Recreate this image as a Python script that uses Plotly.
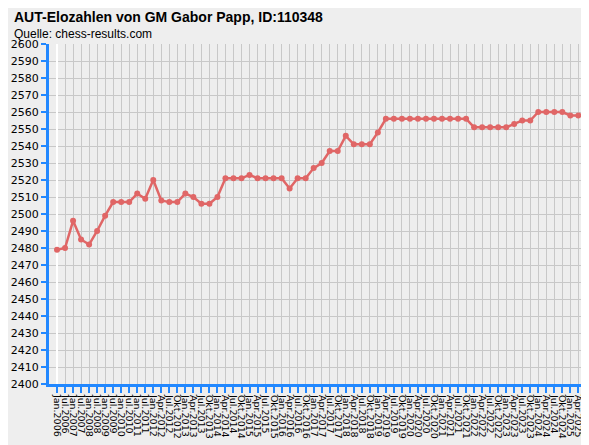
import plotly.graph_objects as go

labels = ["Jan.2006","Jul.2006","Jan.2007","Jul.2007","Jan.2008","Jul.2008","Jan.2009","Jul.2009",
"Jan.2010","Jul.2010","Jan.2011","Jul.2011","Jan.2012","Apr.2012","Jul.2012","Okt.2012"]
for y in range(2013, 2025):
    labels += [f"Jan.{y}", f"Apr.{y}", f"Jul.{y}", f"Okt.{y}"]
labels += ["Jan.2025", "Apr.2025", "Jul.2025"]

elo = [2479,2480,2496,2485,2482,2490,2499,2507,2507,2507,2512,2509,2520,2508,2507,2507,
2512,2510,2506,2506,2510,2521,2521,2521,2523,2521,2521,2521,2521,2515,2521,2521,2527,2530,
2537,2537,2546,2541,2541,2541,2548,
2556,2556,2556,2556,2556,2556,2556,2556,2556,2556,2556,
2551,2551,2551,2551,2551,2553,2555,2555,2560,2560,2560,2560,2558,2558,2558]

xs = list(range(len(labels)))
fig = go.Figure(go.Scatter(x=xs, y=elo, mode="lines+markers",
    line=dict(color="#E06666", width=2.5), marker=dict(color="#E06666", size=6)))
fig.update_layout(
    width=589, height=445, paper_bgcolor="#EEEEEE", plot_bgcolor="#EEEEEE",
    margin=dict(l=41, r=5, t=36, b=69), showlegend=False,
    font=dict(family="DejaVu Sans", size=11, color="black"),
    annotations=[
        dict(text="<b>AUT-Elozahlen von GM Gabor Papp, ID:110348</b>", x=0, y=1, xref="paper", yref="paper",
             xanchor="left", yanchor="bottom", yshift=17, xshift=-37, showarrow=False,
             font=dict(family="Liberation Sans", size=14)),
        dict(text="Quelle: chess-results.com", x=0, y=1, xref="paper", yref="paper",
             xanchor="left", yanchor="bottom", yshift=1, xshift=-37, showarrow=False,
             font=dict(family="Liberation Sans", size=12)),
    ])
fig.update_xaxes(tickmode="array", tickvals=xs, ticktext=labels, tickangle=90, automargin=False,
    range=[-1, len(labels) - 0.3], showgrid=True, gridcolor="#C8C8C8",
    showline=True, linecolor="#2288FF", linewidth=3, ticks="outside", tickcolor="#2288FF",
    ticklen=6, tickwidth=2, tickfont=dict(size=9.5))
fig.update_yaxes(range=[2400, 2600], dtick=10, showgrid=True, gridcolor="#C8C8C8", automargin=False,
    showline=True, linecolor="#2288FF", linewidth=3, ticks="outside", tickcolor="#2288FF",
    ticklen=5, tickwidth=2, tickfont=dict(size=11), zeroline=False)
fig.write_html("out.html")
